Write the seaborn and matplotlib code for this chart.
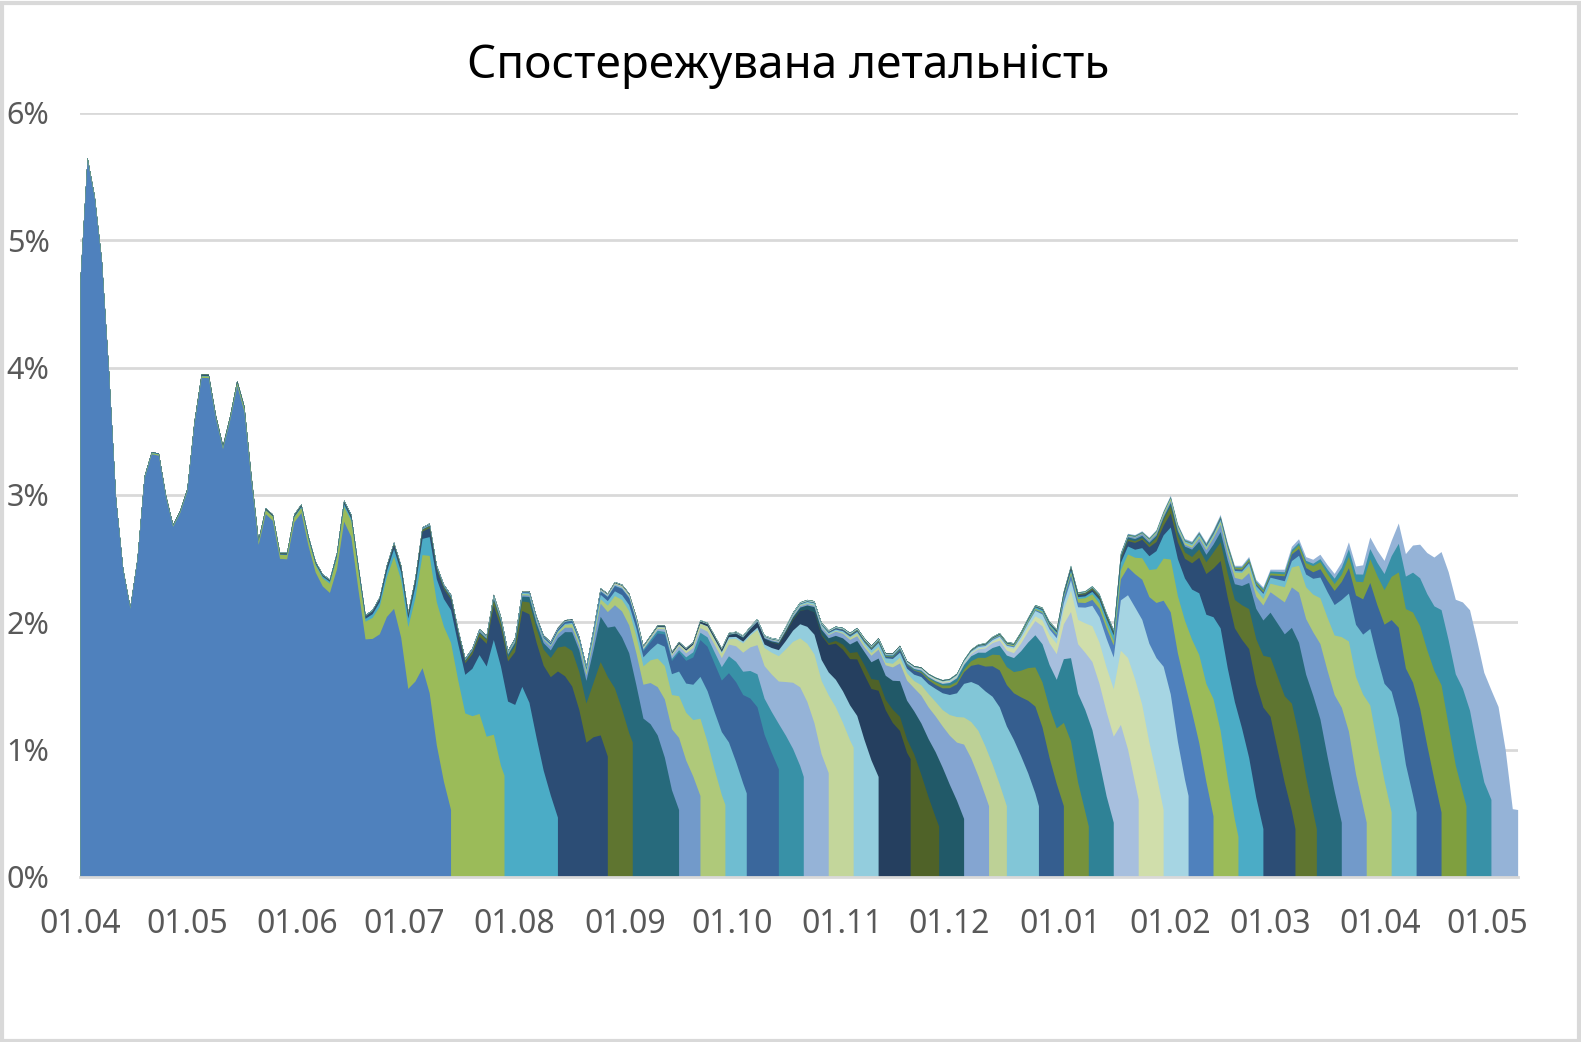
import numpy as np
import matplotlib
matplotlib.use("Agg")
import matplotlib.pyplot as plt
from matplotlib.patches import Rectangle
import seaborn as sns

# ---------------- data ----------------
title = "Спостережувана летальність"

month_tick_days = [0, 30, 61, 91, 122, 153, 183, 214, 244, 275, 306, 334, 365, 395]
month_tick_labels = ["01.04", "01.05", "01.06", "01.07", "01.08", "01.09", "01.10",
                     "01.11", "01.12", "01.01", "01.02", "01.03", "01.04", "01.05"]
y_tick_values = [0, 1, 2, 3, 4, 5, 6]
y_tick_labels = ["0%", "1%", "2%", "3%", "4%", "5%", "6%"]

# final observed lethality (%), sampled every 2 days from 01.04.2020
sample_step_days = 2
final_rate = [
    4.69, 5.65, 5.35, 4.85, 3.98, 2.97, 2.42, 2.12, 2.50, 3.15,
    3.34, 3.33, 3.00, 2.77, 2.88, 3.05, 3.58, 3.95, 3.95, 3.63,
    3.39, 3.62, 3.90, 3.70, 3.15, 2.65, 2.90, 2.85, 2.55, 2.55,
    2.85, 2.93, 2.68, 2.48, 2.38, 2.34, 2.55, 2.96, 2.85, 2.45,
    2.06, 2.10, 2.20, 2.45, 2.63, 2.45, 2.08, 2.35, 2.75, 2.78,
    2.45, 2.30, 2.22, 1.95, 1.72, 1.80, 1.95, 1.90, 2.22, 2.05,
    1.78, 1.88, 2.25, 2.25, 2.05, 1.90, 1.85, 1.96, 2.02, 2.03,
    1.89, 1.66, 1.95, 2.27, 2.23, 2.32, 2.30, 2.23, 2.05, 1.82,
    1.90, 1.98, 1.98, 1.77, 1.85, 1.80, 1.85, 2.02, 2.00, 1.90,
    1.80, 1.92, 1.93, 1.90, 1.97, 2.03, 1.90, 1.88, 1.87, 1.97,
    2.08, 2.16, 2.18, 2.17, 2.00, 1.94, 1.97, 1.96, 1.92, 1.96,
    1.88, 1.82, 1.88, 1.76, 1.76, 1.82, 1.70, 1.66, 1.65, 1.60,
    1.57, 1.55, 1.56, 1.60, 1.71, 1.79, 1.83, 1.84, 1.89, 1.92,
    1.85, 1.84, 1.93, 2.04, 2.14, 2.12, 2.01, 1.95, 2.25, 2.45,
    2.24, 2.25, 2.29, 2.23, 2.08, 1.95, 2.55, 2.70, 2.69, 2.72,
    2.67, 2.73, 2.88, 3.00, 2.78, 2.66, 2.64, 2.72, 2.63, 2.73,
    2.85, 2.63, 2.45, 2.45, 2.52, 2.34, 2.28, 2.42, 2.42, 2.42,
    2.60, 2.66, 2.52, 2.50, 2.54, 2.46, 2.39, 2.48, 2.64, 2.45,
    2.46, 2.68, 2.58, 2.50, 2.66, 2.80, 2.56, 2.63, 2.64, 2.58,
    2.55, 2.60, 2.45, 2.24, 2.23, 2.18, 1.95, 1.70, 1.57, 1.45,
    1.10, 0.60,
]

# report snapshots: day (from 01.04.2020) at which each snapshot series ends
snapshot_cut_days = [104, 119, 134, 148, 155, 168, 174, 181, 187, 196,
                     203, 210, 217, 224, 233, 241, 248, 255, 260, 269,
                     276, 283, 290, 297, 304, 311, 318, 325, 332, 341,
                     347, 354, 361, 368, 375, 382, 389, 396, 403.5]
# height (%) of each snapshot at its last day
snapshot_cut_level = [0.53, 0.80, 0.47, 0.95, 1.06, 0.53, 0.64, 0.57, 0.66, 0.85,
                      0.79, 0.82, 1.02, 0.79, 0.93, 0.40, 0.46, 0.56, 0.56, 0.56,
                      0.56, 0.40, 0.43, 0.61, 0.53, 0.64, 0.48, 0.32, 0.38, 0.38,
                      0.38, 0.43, 0.43, 0.51, 0.51, 0.51, 0.56, 0.61, 0.53]
snapshot_colors = ["#4F81BD", "#9BBB59", "#4BACC6", "#2C4D75", "#5F7530", "#276A7C",
                   "#729ACA", "#AFC97A", "#6FBDD1", "#3A679C", "#3891A7", "#95B3D7",
                   "#C3D69B", "#93CDDD", "#253F5F", "#4F6228", "#215968", "#84A5D1",
                   "#BDD196", "#82C6D7", "#355E8F", "#76923C", "#2F8296", "#A7BFDE",
                   "#D0DEAB", "#A6D5E3", "#4F81BD", "#9BBB59", "#4BACC6", "#2C4D75",
                   "#5F7530", "#276A7C", "#729ACA", "#AFC97A", "#6FBDD1", "#3A679C",
                   "#7F9F3F", "#3891A7", "#95B3D7"]

# share of the final value still missing, by reporting lag (days)
completeness_lag_days = [0, 7, 14, 21, 28, 42, 63, 120]
completeness_gap = [1.0, 0.56, 0.30, 0.15, 0.08, 0.03, 0.01, 0.0]

# ---------------- figure ----------------
sns.set_theme(style="white")
plt.rcParams["font.family"] = ["Noto Sans", "DejaVu Sans"]

W, H = 1581, 1042
fig = plt.figure(figsize=(W / 100, H / 100), dpi=100)
fig.patch.set_facecolor("white")
ax = fig.add_axes([80 / W, 1 - 877 / H, (1518 - 80) / W, (877 - 113) / H])

days = np.arange(len(final_rate)) * sample_step_days
total = np.array(final_rate, dtype=float)
pal = sns.color_palette(snapshot_colors)

n = len(snapshot_cut_days)
for k in reversed(range(n)):
    cut = snapshot_cut_days[k]
    mask = days < cut
    xk = days[mask].astype(float)
    tk = total[mask]
    level = min(snapshot_cut_level[k], tk[-1])
    g0 = level / tk[-1]
    lag = cut - xk
    gap = np.interp(lag, completeness_lag_days, completeness_gap)
    yk = tk * (1 - (1 - g0) * gap)
    xk = np.append(xk, cut)
    yk = np.append(yk, level)
    ax.fill_between(xk, 0, yk, color=pal[k], linewidth=0, zorder=3 + (n - k) * 0.01)

ax.set_xlim(0, 403.6)
ax.set_ylim(0, 6)
ax.set_yticks(y_tick_values)
ax.set_yticklabels(y_tick_labels)
ax.set_xticks(month_tick_days)
ax.set_xticklabels(month_tick_labels)

ax.set_axisbelow(True)
ax.yaxis.grid(True, color="#D9D9D9", linewidth=2.0)
ax.xaxis.grid(False)
sns.despine(ax=ax, left=True, top=True, right=True)
ax.spines["bottom"].set_color("#D9D9D9")
ax.spines["bottom"].set_linewidth(2.0)
ax.spines["bottom"].set_zorder(10)

ax.tick_params(axis="x", direction="out", length=6, width=1.5, color="#D9D9D9",
               labelsize=23, labelcolor="#595959", pad=16)
ax.tick_params(axis="y", length=0, labelsize=22, labelcolor="#595959", pad=22)
ax.set_facecolor("white")

fig.text(788 / W, 1 - 66 / H, title, ha="center", va="center", fontsize=33, color="#000000")

fig.patches.append(Rectangle((0.001, 0.001), 0.998, 0.996, transform=fig.transFigure,
                             fill=False, edgecolor="#D9D9D9", linewidth=3))

fig.savefig("out.png", dpi=100, facecolor="white")
